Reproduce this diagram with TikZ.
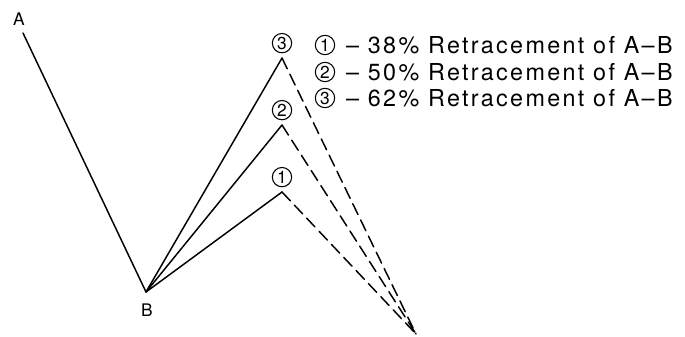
\documentclass[tikz,border=0pt]{standalone}
\usepackage{fontspec}
\setmainfont{TeX Gyre Heros}
\usetikzlibrary{positioning, math}

\tikzset{
  swing/.style={line width=1.1pt, line cap=round},
  dashleg/.style={dash pattern=on 9pt off 4.5pt},
  ptlabel/.style={inner sep=0pt, font=\fontsize{13}{13}\selectfont},
  circnum/.style={circle, draw, line width=0.8pt, inner sep=0pt, minimum size=14.5pt, font=\fontsize{13}{13}\selectfont},
  legendtext/.style={inner sep=0pt, anchor=west, font=\fontsize{17.5}{18}\addfontfeatures{LetterSpace=10}\selectfont},
}

\begin{document}
\begin{tikzpicture}[x=0.75pt,y=-0.75pt]
\useasboundingbox (0,0) rectangle (685,336);
\tikzmath{
\px=282;
\kx=325;
}

%swing A-B
\coordinate (a) at (23,33);
\coordinate (b) at (146,292);
\coordinate (c) at (416,334);
\node[ptlabel] (la) at (19,19) {A};
\node[ptlabel] (lb) at (147,310) {B};
\draw[swing] (a) -- (b);

%retracements
\foreach \n/\y in {1/192,2/125,3/58}{
  \coordinate (p\n) at (\px,\y);
  \draw[swing] (b) -- (p\n);
  \draw[swing,dashleg] (p\n) -- (c);
  \node[circnum,above=3.5pt of p\n] (l\n) {\n};
}

%legend
\foreach \n/\pct/\y in {1/38/45,2/50/72,3/62/98}{
  \node[circnum] (k\n) at (\kx,\y) {\n};
  \node[legendtext,right=8pt of k\n] (t\n) {– \pct\% Retracement of A–B};
}

\end{tikzpicture}
\end{document}
